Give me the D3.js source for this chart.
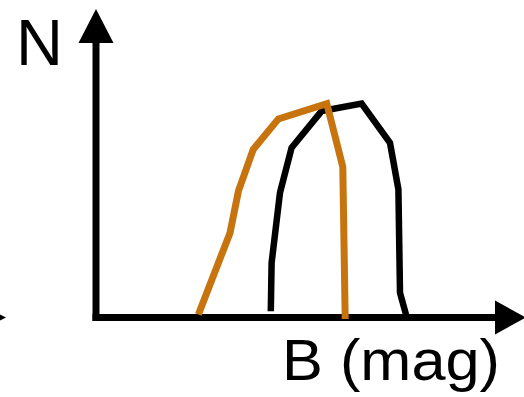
<!DOCTYPE html>
<html>
<head>
<meta charset="utf-8">
<script src="https://cdn.jsdelivr.net/npm/d3@7"></script>
<style>
html,body{margin:0;padding:0;background:#fff;overflow:hidden;}
svg{display:block;}
</style>
</head>
<body>
<svg id="chart" width="524" height="397"></svg>
<script>
// Data (arbitrary units)
const orangeB = [2.56, 3.35, 3.56, 3.93, 4.56, 5.77, 6.17, 6.23];
const orangeN = [0.10, 2.82, 4.21, 5.60, 6.62, 7.13, 5.02, -0.05];
const blackB  = [4.37, 4.39, 4.52, 4.60, 4.89, 5.64, 6.64, 7.35, 7.56, 7.60, 7.75];
const blackN  = [0.21, 1.82, 3.27, 4.16, 5.66, 6.88, 7.13, 5.82, 4.27, 0.82, 0.10];
const xLabel = "B (mag)";
const yLabel = "N";

const svg = d3.select("#chart");
const x = d3.scaleLinear().domain([0, 10]).range([96, 496]);
const y = d3.scaleLinear().domain([0, 10]).range([317.5, 17.5]);

// Axes (drawn as arrows)
const axisW = 7;
svg.append("line").attr("x1", x(0)).attr("x2", x(0))
  .attr("y1", y(0) + axisW/2).attr("y2", 40)
  .attr("stroke", "#000").attr("stroke-width", axisW);
svg.append("path").attr("d", d3.line()([[x(0), 9], [x(0) - 17.5, 43], [x(0) + 17.5, 43]]) + "Z")
  .attr("fill", "#000");
svg.append("line").attr("x1", x(0) - axisW/2).attr("x2", 500)
  .attr("y1", y(0)).attr("y2", y(0))
  .attr("stroke", "#000").attr("stroke-width", axisW);
svg.append("path").attr("d", d3.line()([[526, y(0)], [495, y(0) - 17], [495, y(0) + 17]]) + "Z")
  .attr("fill", "#000");
// small cut-off arrow tip at left edge
svg.append("path").attr("d", d3.line()([[0, 314.5], [6, 317.5], [0, 320.5]]) + "Z")
  .attr("fill", "#000");

const line = d3.line().x(d => x(d[0])).y(d => y(d[1]));

svg.append("path")
  .datum(d3.zip(blackB, blackN))
  .attr("d", line)
  .attr("fill", "none").attr("stroke", "#000").attr("stroke-width", 6.5)
  .attr("stroke-linejoin", "miter");

svg.append("path")
  .datum(d3.zip(orangeB, orangeN))
  .attr("d", line)
  .attr("fill", "none").attr("stroke", "#c7740f").attr("stroke-width", 7)
  .attr("stroke-linejoin", "miter");

svg.append("text").attr("x", 16).attr("y", 65)
  .attr("font-family", "Liberation Sans, Arial, Helvetica, sans-serif")
  .attr("font-size", 65).attr("fill", "#000").text(yLabel);

svg.append("text").attr("x", 282).attr("y", 380)
  .attr("font-family", "Liberation Sans, Arial, Helvetica, sans-serif")
  .attr("font-size", 57).attr("fill", "#000")
  .attr("textLength", 218).attr("lengthAdjust", "spacingAndGlyphs")
  .text(xLabel);
</script>
</body>
</html>
